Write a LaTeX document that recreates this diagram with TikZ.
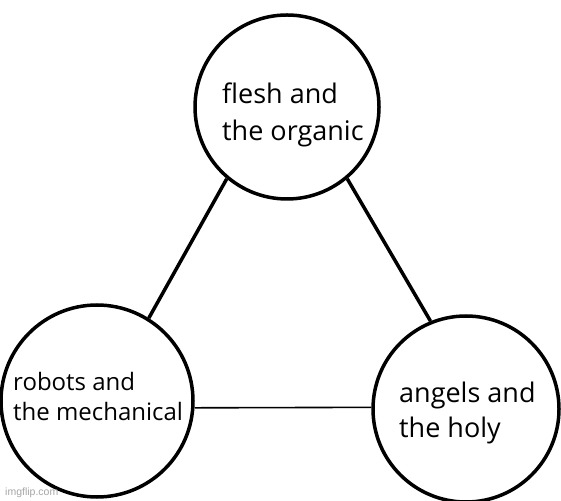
\documentclass[tikz,border=0pt]{standalone}
\usepackage{fontspec}
\setmainfont{Open Sans}
\newfontfamily\markfont{Liberation Sans}
\tikzset{realm/.style = {shape = circle, draw, line width = 3.5pt, inner sep = 0pt}}
\tikzset{tie/.style = {line width = 3.5pt}}
\tikzset{words/.style = {anchor = base west, align = left, inner sep = 0pt}}

\begin{document}
\begin{tikzpicture}[x=1pt, y=1pt]
			\useasboundingbox[fill=white] (0, 0) rectangle (561, 500);

			\node[realm, minimum size = 184pt] (flesh) at (287, 393) {};
			\node[realm, minimum size = 192pt] (robots) at (97, 99) {};
			\node[realm, minimum size = 186pt] (angels) at (466, 91) {};

			% base of a two-line node sits on its last line
			\node[words, font = \fontsize{27}{37}\selectfont] (fleshtxt) at (222, 359) {flesh and\\the organic};
			\node[words, font = \fontsize{24}{30}\selectfont] (robotstxt) at (13, 79) {robots and\\the mechanical};
			\node[words, font = \fontsize{27}{35}\selectfont] (angelstxt) at (399, 63) {angels and\\the holy};
			\node[anchor = base west, inner sep = 0pt, text = black!35, font = \markfont\fontsize{10.5}{12}\selectfont] (mark) at (5, 5) {imgflip.com};

			\draw[tie] (flesh.230) to (robots.58);
			\draw[tie] (flesh.310) to (angels.112);
			\draw[line width = 1.6pt] (robots.-4) to (angels.179);
		\end{tikzpicture}
\end{document}
